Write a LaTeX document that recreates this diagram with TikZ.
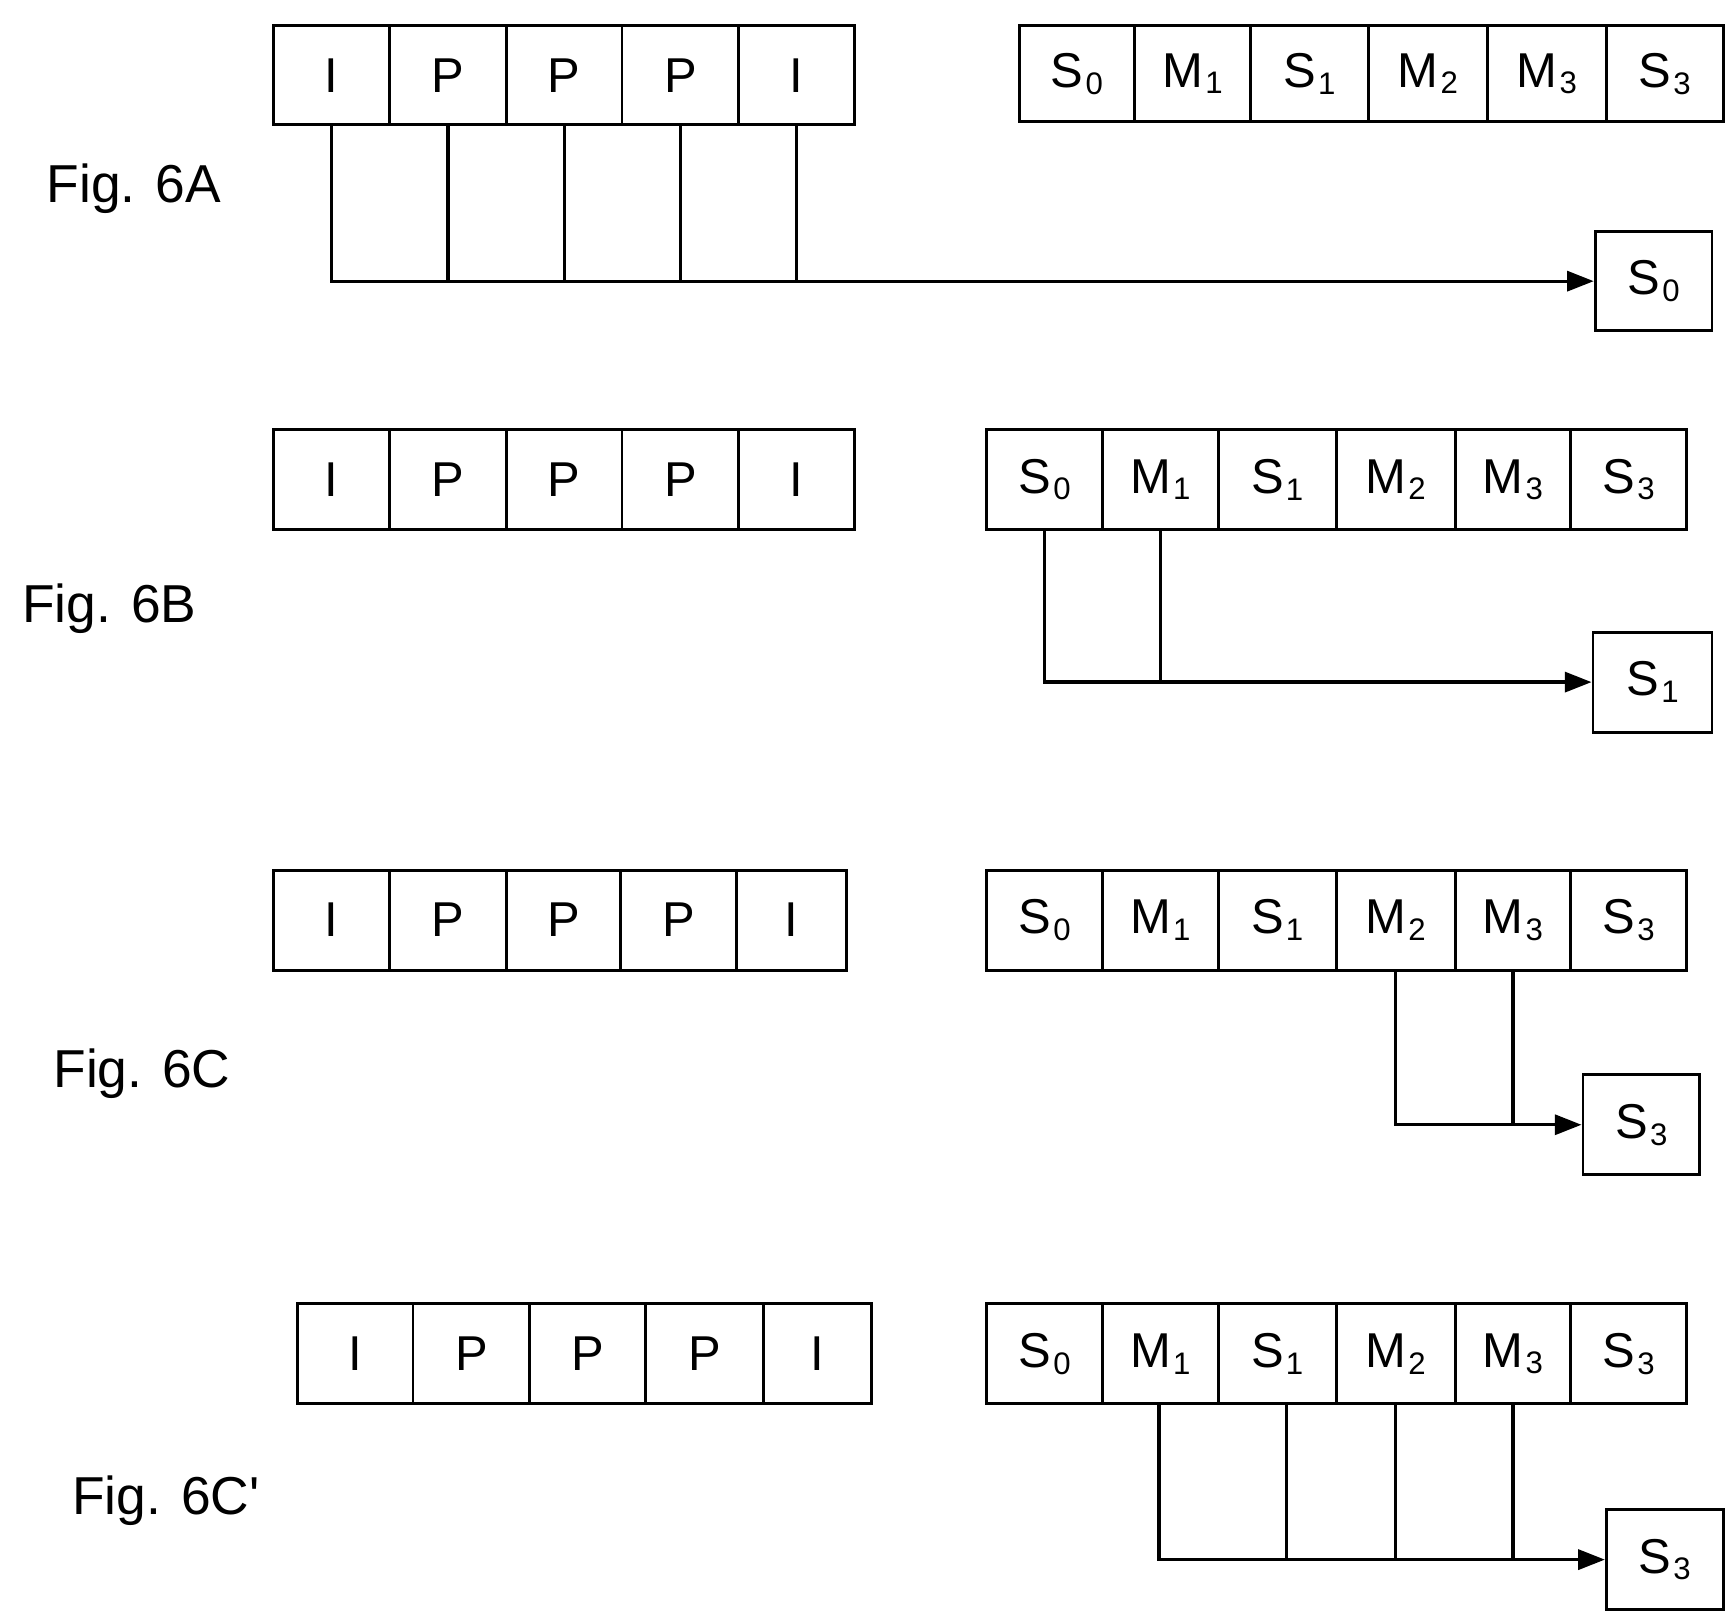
\documentclass[tikz,border=0pt]{standalone}
\usepackage{fontspec}
\setmainfont{Liberation Sans}
\usetikzlibrary{arrows.meta}
\begin{document}
\begin{tikzpicture}[x=0.5pt,y=-0.5pt,
  cell/.style={draw,line width=1.3pt,inner sep=0pt,anchor=north west,font=\fontsize{22}{26}\selectfont},
  lab/.style={font=\fontsize{24}{28}\selectfont,anchor=west},
  ln/.style={line width=1.5pt},
  arr/.style={ln,-{Triangle[length=12pt,width=9pt]}}]
\useasboundingbox (0,0) rectangle (1560,1458);
\newcommand{\cellrow}[4]{% prefix, y1, y2, list x/label
  \foreach \xa/\xb/\t [count=\i] in {#4}
    \node[cell,minimum width=(\xb-\xa)*0.5pt,minimum height=(#3-#2)*0.5pt] (#1\i) at (\xa,#2) {\t};}
\newcommand{\Sx}[2]{#1\kern1pt\raisebox{-3pt}{\fontsize{14}{14}\selectfont#2}}
% 6A
\node[lab] (fa) at (35,170) {Fig. 6A};
\cellrow{a}{22}{111}{245/349/I,349/454/P,454/558/P,558/663/P,663/767/I}
\cellrow{ar}{22}{108}{915/1019/\Sx{S}{0},1019/1123/\Sx{M}{1},1123/1229/\Sx{S}{1},1229/1336/\Sx{M}{2},1336/1443/\Sx{M}{3},1443/1548/\Sx{S}{3}}
\node[cell,minimum width=52.5pt,minimum height=44.5pt] (ab) at (1433,207) {\Sx{S}{0}};
\draw[arr] (a1.south) |- (ab.west);
\foreach \i in {2,...,5} \draw[ln] (a\i.south) -- (a\i.south |- ab.west);
% 6B
\node[lab] (fb) at (13,547) {Fig. 6B};
\cellrow{b}{385}{475}{245/349/I,349/454/P,454/558/P,558/663/P,663/767/I}
\cellrow{br}{385}{475}{886/990/\Sx{S}{0},990/1094/\Sx{M}{1},1094/1200/\Sx{S}{1},1200/1307/\Sx{M}{2},1307/1411/\Sx{M}{3},1411/1515/\Sx{S}{3}}
\node[cell,minimum width=53.5pt,minimum height=45pt] (bb) at (1431,567) {\Sx{S}{1}};
\draw[arr] (br1.south) |- (bb.west);
\draw[ln] (br2.south) -- (br2.south |- bb.west);
% 6C
\node[lab] (fc) at (41,965) {Fig. 6C};
\cellrow{c}{781}{871}{245/349/I,349/454/P,454/557/P,557/661/P,661/760/I}
\cellrow{cr}{781}{871}{886/990/\Sx{S}{0},990/1094/\Sx{M}{1},1094/1200/\Sx{S}{1},1200/1307/\Sx{M}{2},1307/1411/\Sx{M}{3},1411/1515/\Sx{S}{3}}
\node[cell,minimum width=52.5pt,minimum height=45pt] (cb) at (1422,965) {\Sx{S}{3}};
\draw[arr] (cr4.south) |- (cb.west);
\draw[ln] (cr5.south) -- (cr5.south |- cb.west);
% 6C'
\node[lab] (fd) at (58,1349) {Fig. 6C\textquotesingle};
\cellrow{d}{1171}{1261}{266/370/I,370/475/P,475/579/P,579/685/P,685/782/I}
\cellrow{dr}{1171}{1261}{886/990/\Sx{S}{0},990/1094/\Sx{M}{1},1094/1200/\Sx{S}{1},1200/1307/\Sx{M}{2},1307/1411/\Sx{M}{3},1411/1515/\Sx{S}{3}}
\node[cell,minimum width=52.5pt,minimum height=45pt] (db) at (1443,1356) {\Sx{S}{3}};
\coordinate (d0) at (1042,1261);
\coordinate (d1) at (1157,1261);
\draw[arr] (d0) |- (db.west);
\draw[ln] (d1) -- (d1 |- db.west);
\draw[ln] (dr4.south) -- (dr4.south |- db.west);
\draw[ln] (dr5.south) -- (dr5.south |- db.west);
\end{tikzpicture}
\end{document}
